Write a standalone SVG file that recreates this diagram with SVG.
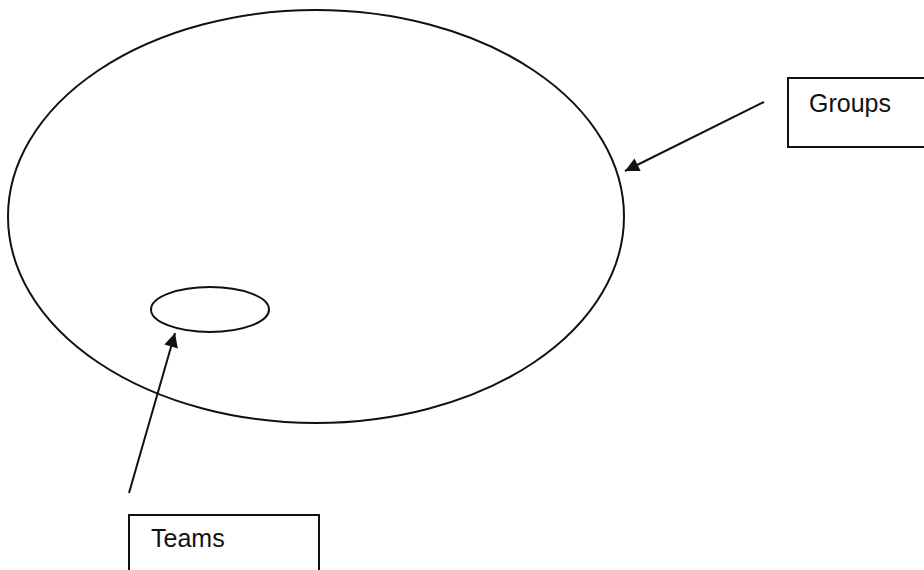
<svg xmlns="http://www.w3.org/2000/svg" width="924" height="570" viewBox="0 0 924 570">
<style>
.shape{fill:none;stroke:#111;stroke-width:2}
.box{fill:#fff;stroke:#111;stroke-width:2}
.lbl{font-family:"Liberation Sans",Arial,sans-serif;font-size:25px;fill:#111}
.conn{stroke:#111;stroke-width:2;fill:none}
</style>
<defs>
<marker id="ah" viewBox="0 0 10 10" refX="10" refY="5" markerWidth="9" markerHeight="7" markerUnits="strokeWidth" orient="auto">
<path d="M0,0 L10,5 L0,10 z" fill="#111"/>
</marker>
</defs>
<rect width="924" height="570" fill="#fff"/>
<g id="groups-ellipse"><ellipse class="shape" cx="316" cy="216.5" rx="308" ry="206.5"/></g>
<g id="teams-ellipse"><ellipse class="shape" cx="210" cy="309.5" rx="59" ry="22.5"/></g>
<g id="groups-label"><rect class="box" x="788" y="78" width="140" height="69"/><text class="lbl" x="809" y="112">Groups</text></g>
<g id="teams-label"><rect class="box" x="129" y="515" width="190" height="60"/><text class="lbl" x="151" y="547">Teams</text></g>
<g id="connectors">
<line class="conn" x1="764" y1="102" x2="625" y2="171" marker-end="url(#ah)"/>
<line class="conn" x1="129" y1="493" x2="175" y2="333" marker-end="url(#ah)"/>
</g>
</svg>
